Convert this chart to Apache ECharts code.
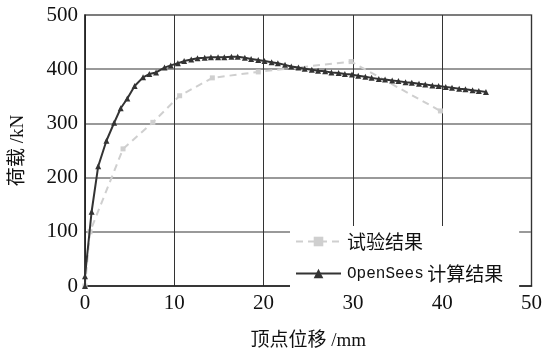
<!DOCTYPE html>
<html><head><meta charset="utf-8">
<script src="https://cdn.jsdelivr.net/npm/echarts@6/dist/echarts.min.js"></script>
<style>html,body{margin:0;padding:0;background:#fff}#c{width:545px;height:356px}</style>
</head><body><div id="c"></div>
<script>
var xTicks = [0, 10, 20, 30, 40, 50];
var yTicks = [0, 100, 200, 300, 400, 500];
var expName = '试验结果';
var simName = 'OpenSees 计算结果';
var expX = [0, 0.56, 4.26, 7.6, 10.6, 14.26, 19.4, 29.8, 39.8];
var expY = [0, 100, 253, 302, 351, 384, 395, 414, 323];
var simX = [0, 0, 0.74, 1.48, 2.4, 3.26, 4.0, 4.74, 5.56, 6.5, 7.2, 7.96, 8.9, 9.6, 10.4, 11.1, 11.9, 12.6, 13.4, 14.1, 14.9, 15.6, 16.4, 17.1, 17.9, 18.6, 19.4, 20.1, 20.9, 21.6, 22.4, 23.1, 23.9, 24.6, 25.4, 26.1, 26.9, 27.6, 28.4, 29.1, 29.9, 30.6, 31.4, 32.1, 32.9, 33.6, 34.4, 35.1, 35.9, 36.6, 37.4, 38.1, 38.9, 39.6, 40.4, 41.1, 41.9, 42.6, 43.4, 44.1, 44.9];
var simY = [0, 18, 137, 221, 268, 301, 328, 346, 369, 385, 391, 394, 403, 407, 411, 415, 418, 420, 421, 422, 422, 422, 423, 423, 421, 419, 417, 415, 413, 411, 408, 405, 403, 401, 399, 397, 396, 394, 393, 391, 390, 388, 386, 384, 382, 381, 379, 378, 376, 375, 373, 372, 370, 369, 367, 366, 364, 363, 361, 360, 358];

function pairs(xs, ys) { return xs.map(function (x, i) { return [x, ys[i]]; }); }

var serif = "'Liberation Serif','DejaVu Serif','Noto Sans CJK SC',serif";
var chart = echarts.init(document.getElementById('c'), null, {renderer: 'canvas'});
chart.setOption({
  animation: false,
  backgroundColor: '#fff',
  grid: {left: 85, right: 11, top: 15, bottom: 68, show: true, borderColor: '#666', borderWidth: 1.5, backgroundColor: 'transparent'},
  xAxis: {
    type: 'value', min: xTicks[0], max: xTicks[xTicks.length - 1], interval: 10,
    name: '顶点位移 /mm', nameLocation: 'middle', nameGap: 46,
    nameTextStyle: {fontFamily: serif, fontSize: 19, color: '#111'},
    axisLine: {show: true, onZero: false, lineStyle: {color: '#222', width: 1.5}},
    axisTick: {show: false},
    axisLabel: {fontFamily: serif, fontSize: 21, color: '#111', margin: 7},
    splitLine: {show: true, lineStyle: {color: '#333', width: 1}}
  },
  yAxis: {
    type: 'value', min: yTicks[0], max: yTicks[yTicks.length - 1], interval: 100,
    name: '荷载 /kN', nameLocation: 'middle', nameGap: 57, nameRotate: 90,
    nameTextStyle: {fontFamily: serif, fontSize: 19, color: '#111'},
    axisLine: {show: true, onZero: false, lineStyle: {color: '#222', width: 1.5}},
    axisTick: {show: false},
    axisLabel: {fontFamily: serif, fontSize: 21, color: '#111', margin: 7},
    splitLine: {show: true, lineStyle: {color: '#777', width: 1.5}}
  },
  legend: {
    orient: 'vertical', left: 290, top: 226,
    backgroundColor: '#fff', padding: [6, 16, 8, 5],
    itemWidth: 45, itemHeight: 12, itemGap: 13,
    data: [expName, simName],
    formatter: function (n) { return n === simName ? '{m|OpenSees} {c|计算结果}' : '{c|' + n + '}'; },
    textStyle: {
      color: '#111', padding: [0, 0, 0, 1],
      rich: {
        m: {fontFamily: "'Liberation Mono','DejaVu Sans Mono',monospace", fontSize: 16, color: '#111'},
        c: {fontFamily: "'Noto Sans CJK SC',sans-serif", fontSize: 19, color: '#111'}
      }
    }
  },
  series: [
    {
      name: expName, type: 'line', data: pairs(expX, expY),
      symbol: 'rect', symbolSize: 5, z: 2,
      lineStyle: {color: '#cfcfcf', width: 2, type: [7, 5]},
      itemStyle: {color: '#cfcfcf'}
    },
    {
      name: simName, type: 'line', data: pairs(simX, simY),
      symbol: 'triangle', symbolSize: 6, z: 3,
      lineStyle: {color: '#333', width: 2},
      itemStyle: {color: '#333'}
    }
  ]
});
</script></body></html>
